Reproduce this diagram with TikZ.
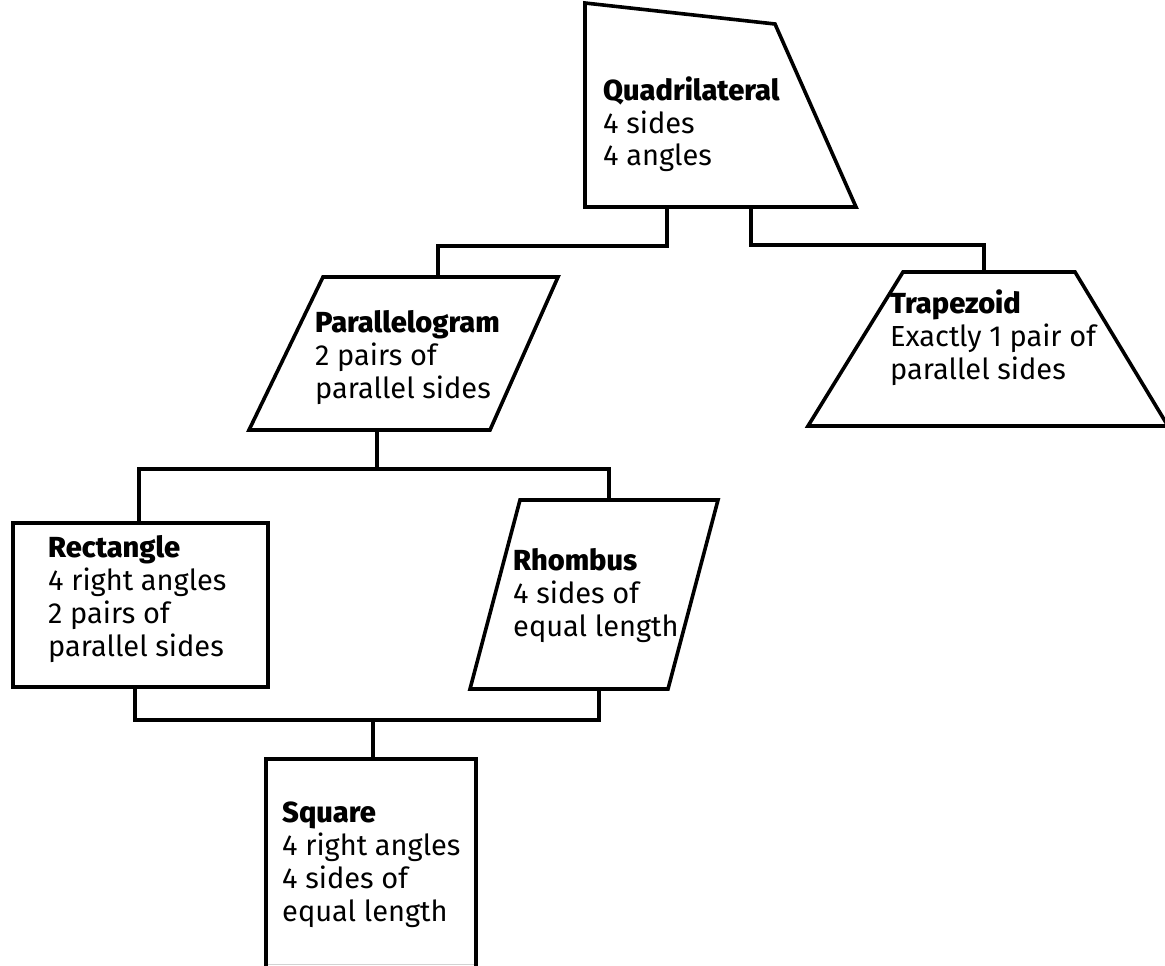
\documentclass[tikz,border=0pt]{standalone}
\usepackage{fontspec}
\setmainfont{Fira Sans}[BoldFont={Fira Sans ExtraBold}]
\begin{document}
\begin{tikzpicture}[x=1pt,y=-1pt,
  shapebox/.style={draw=black,line width=3.6pt,line join=miter},
  conn/.style={draw=black,line width=3.2pt},
  txt/.style={anchor=base west,inner sep=0pt,font=\fontsize{29}{33}\selectfont}]
\useasboundingbox (0,0) rectangle (1165,966);
\clip (0,0) rectangle (1165,966);
\fill[white] (0,0) rectangle (1165,966);
% --- shape vertices
\coordinate (q1) at (585,3);   \coordinate (q2) at (775,24);
\coordinate (q3) at (856,207); \coordinate (q4) at (585,207);
\coordinate (p1) at (323,277); \coordinate (p2) at (558,277);
\coordinate (p3) at (490,430); \coordinate (p4) at (249,430);
\coordinate (t1) at (903,272); \coordinate (t2) at (1075,272);
\coordinate (t3) at (1168,426);\coordinate (t4) at (808,426);
\coordinate (r1) at (13,523);  \coordinate (r3) at (268,687);
\coordinate (h1) at (520,500); \coordinate (h2) at (718,500);
\coordinate (h3) at (668,689); \coordinate (h4) at (470,689);
\coordinate (s1) at (266,759); \coordinate (s2) at (476,759);
\coordinate (s3) at (476,964); \coordinate (s4) at (266,964);
% --- shapes
\draw[shapebox] (q1) -- (q2) -- (q3) -- (q4) -- cycle;
\draw[shapebox] (p1) -- (p2) -- (p3) -- (p4) -- cycle;
\draw[shapebox] (t1) -- (t2) -- (t3) -- (t4) -- cycle;
\draw[shapebox] (r1) rectangle (r3);
\draw[shapebox] (h1) -- (h2) -- (h3) -- (h4) -- cycle;
\draw[gray!35,line width=1pt] (s4) -- (s3);
\draw[shapebox] (266,990) -- (s1) -- (s2) -- (476,990);
% --- connection points
\coordinate (qa) at (667,207); \coordinate (qb) at (751,207);
\coordinate (ja) at (438,246); \coordinate (jb) at (984,245);
\coordinate (pt) at (438,277); \coordinate (tt) at (984,272);
\coordinate (pb) at (377,430); \coordinate (jm) at (377,469);
\coordinate (rt) at (139,523); \coordinate (ht) at (609,500);
\coordinate (rb) at (135,687); \coordinate (hb) at (599,689);
\coordinate (jl) at (135,720); \coordinate (jr) at (599,720);
\coordinate (jsq) at (373,720);\coordinate (st) at (373,759);
% --- connectors
\draw[conn] (qa) |- (ja) -- (pt);
\draw[conn] (qb) |- (jb) -- (tt);
\draw[conn] (pb) -- (jm);
\draw[conn] (rt) |- (jm) -| (ht);
\draw[conn] (rb) |- (jr) -- (hb);
\draw[conn] (jsq) -- (st);
% --- texts
\node[txt] (quad) at (603,100) {\begin{tabular}[t]{@{}l@{}}\textbf{Quadrilateral}\\4 sides\\4 angles\end{tabular}};
\node[txt] (para) at (315,332) {\begin{tabular}[t]{@{}l@{}}\textbf{Parallelogram}\\2 pairs of\\parallel sides\end{tabular}};
\node[txt] (trap) at (890,313) {\begin{tabular}[t]{@{}l@{}}\textbf{Trapezoid}\\Exactly 1 pair of\\parallel sides\end{tabular}};
\node[txt] (rect) at (48,557) {\begin{tabular}[t]{@{}l@{}}\textbf{Rectangle}\\4 right angles\\2 pairs of\\parallel sides\end{tabular}};
\node[txt] (rhom) at (513,570) {\begin{tabular}[t]{@{}l@{}}\textbf{Rhombus}\\4 sides of\\equal length\end{tabular}};
\node[txt] (squa) at (282,822) {\begin{tabular}[t]{@{}l@{}}\textbf{Square}\\4 right angles\\4 sides of\\equal length\end{tabular}};
\end{tikzpicture}
\end{document}
